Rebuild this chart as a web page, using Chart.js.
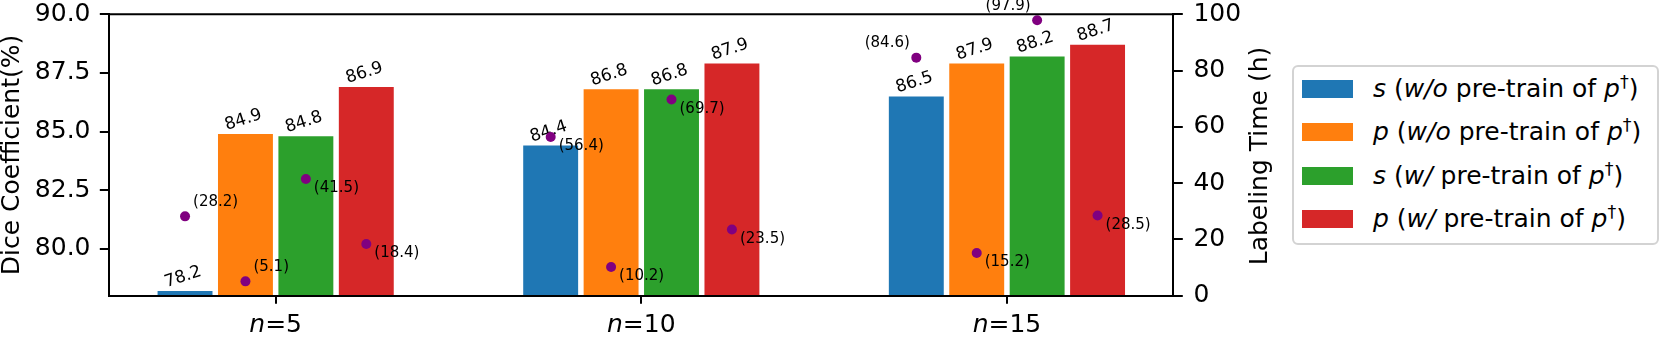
<!DOCTYPE html>
<html>
<head>
<meta charset="utf-8">
<script src="https://cdn.jsdelivr.net/npm/chart.js@4.4.0/dist/chart.umd.min.js"></script>
<style>
  html, body { margin: 0; padding: 0; background: #fff; }
  #wrap { position: relative; width: 1661px; height: 339px; }
  #legend {
    position: absolute; left: 1292px; top: 65px; width: 367px; height: 180px;
    box-sizing: border-box; border: 2px solid #d3d3d3; border-radius: 6px;
    font-family: "DejaVu Sans"; font-size: 25px; color: #000; background: #fff;
  }
  .row { position: absolute; left: 0; height: 30px; line-height: 30px; white-space: nowrap; }
  .swatch { position: absolute; left: 8px; top: 6px; width: 51px; height: 18px; }
  .txt { position: absolute; left: 79px; top: 0; }
  .txt sup { font-size: 0.7em; vertical-align: 0.5em; line-height: 0; }
</style>
</head>
<body>
<div id="wrap">
  <canvas id="chart" width="1661" height="339"></canvas>
  <div id="legend"></div>
</div>
<script>
// n (number of labelled cases)
const categories = ["5", "10", "15"];

// Dice coefficient (%)
const diceSWithout = [78.2, 84.4, 86.5];
const dicePWithout = [84.9, 86.8, 87.9];
const diceSWith = [84.8, 86.8, 88.2];
const dicePWith = [86.9, 87.9, 88.7];

// Labeling time (h)
const timeSWithout = [28.2, 56.4, 84.6];
const timePWithout = [5.1, 10.2, 15.2];
const timeSWith = [41.5, 69.7, 97.9];
const timePWith = [18.4, 23.5, 28.5];

const diceTicks = [80, 82.5, 85, 87.5, 90];
const timeTicks = [0, 20, 40, 60, 80, 100];

const seriesModel = ["s", "p", "s", "p"];
const seriesPretrain = ["w/o", "w/o", "w/", "w/"];
const seriesColors = ["#1f77b4", "#ff7f0e", "#2ca02c", "#d62728"];

// where the "(time)" label sits relative to its dot
const timeLabelSide = [
  ["aboveRight", "belowRight", "aboveLeft"],
  ["aboveRight", "belowRight", "belowRight"],
  ["belowRight", "belowRight", "aboveLeft"],
  ["belowRight", "belowRight", "belowRight"],
];

const diceSeries = [diceSWithout, dicePWithout, diceSWith, dicePWith];
const timeSeries = [timeSWithout, timePWithout, timeSWith, timePWith];

const FONT = "'DejaVu Sans'";
Chart.defaults.font.family = FONT;
Chart.defaults.color = "#000";

function fixSize(prop, size) {
  return (scale) => {
    scale[prop] = size;
    scale.paddingTop = scale.paddingBottom = 0;
    scale.paddingLeft = scale.paddingRight = 0;
  };
}

// Legend
document.getElementById("legend").innerHTML = seriesModel
  .map(
    (m, k) => `
    <div class="row" style="top:${7 + k * 43.3}px">
      <div class="swatch" style="background:${seriesColors[k]}"></div>
      <span class="txt"><i>${m}</i> (<i>${seriesPretrain[k]}</i> pre-train of <i>p</i><sup>†</sup>)</span>
    </div>`,
  )
  .join("");

// Dots, value labels, spines, axis titles
const overlay = {
  id: "overlay",
  afterDatasetsDraw(chart) {
    const { ctx, chartArea: a, scales } = chart;
    ctx.save();

    // rotated bar values
    const ang = (18 * Math.PI) / 180;
    const fs = 17;
    ctx.font = `${fs}px ${FONT}`;
    ctx.fillStyle = "#000";
    diceSeries.forEach((vals, k) => {
      chart.getDatasetMeta(k).data.forEach((bar, i) => {
        const text = vals[i].toFixed(1);
        const w = ctx.measureText(text).width;
        const H = w * Math.sin(ang) + fs * Math.cos(ang);
        ctx.save();
        ctx.translate(bar.x - 2, bar.y - H / 2);
        ctx.rotate(-ang);
        ctx.textAlign = "center";
        ctx.textBaseline = "alphabetic";
        ctx.fillText(text, 0, 0.26 * fs);
        ctx.restore();
      });
    });

    // labeling time dots
    ctx.font = `15px ${FONT}`;
    ctx.textBaseline = "middle";
    timeSeries.forEach((vals, k) => {
      chart.getDatasetMeta(k).data.forEach((bar, i) => {
        const x = bar.x;
        const y = scales.y1.getPixelForValue(vals[i]);
        ctx.fillStyle = "#800080";
        ctx.beginPath();
        ctx.arc(x, y, 5, 0, Math.PI * 2);
        ctx.fill();
        ctx.fillStyle = "#000";
        const text = `(${vals[i].toFixed(1)})`;
        const side = timeLabelSide[k][i];
        if (side === "aboveLeft") {
          ctx.textAlign = "right";
          ctx.fillText(text, x - 6.5, y - 14.5);
        } else if (side === "aboveRight") {
          ctx.textAlign = "left";
          ctx.fillText(text, x + 8, y - 14);
        } else {
          ctx.textAlign = "left";
          ctx.fillText(text, x + 8, y + 9.5);
        }
      });
    });

    // top spine
    ctx.strokeStyle = "#000";
    ctx.lineWidth = 2;
    ctx.beginPath();
    ctx.moveTo(a.left - 1, a.top);
    ctx.lineTo(a.right + 1, a.top);
    ctx.stroke();

    // x tick labels with italic n
    ctx.textBaseline = "alphabetic";
    ctx.textAlign = "left";
    categories.forEach((c, i) => {
      const x = scales.x.getPixelForValue(i);
      ctx.font = `italic 25px ${FONT}`;
      const wn = ctx.measureText("n").width;
      ctx.font = `25px ${FONT}`;
      const wr = ctx.measureText("=" + c).width;
      const x0 = x - (wn + wr) / 2;
      ctx.font = `italic 25px ${FONT}`;
      ctx.fillText("n", x0, 332);
      ctx.font = `25px ${FONT}`;
      ctx.fillText("=" + c, x0 + wn, 332);
    });

    // axis titles
    ctx.font = `25px ${FONT}`;
    ctx.textAlign = "center";
    ctx.save();
    ctx.translate(18.5, (a.top + a.bottom) / 2);
    ctx.rotate(-Math.PI / 2);
    ctx.fillText("Dice Coefficient(%)", 0, 0);
    ctx.restore();
    ctx.save();
    ctx.translate(1267, (a.top + a.bottom) / 2 + 1);
    ctx.rotate(-Math.PI / 2);
    ctx.fillText("Labeling Time (h)", 0, 0);
    ctx.restore();

    ctx.restore();
  },
};

const axisLine = { display: true, color: "#000", width: 2, z: 1 };
const tickMarks = { drawOnChartArea: false, drawTicks: true, tickLength: 9.5, color: "#000", lineWidth: 2 };

new Chart(document.getElementById("chart").getContext("2d"), {
  type: "bar",
  data: {
    datasets: diceSeries.map((vals, k) => ({
      label: `${seriesModel[k]} (${seriesPretrain[k]} pre-train of p†)`,
      data: vals.map((v, i) => ({ x: i, y: v })),
      backgroundColor: seriesColors[k],
      borderWidth: 0,
      categoryPercentage: 0.661,
      barPercentage: 0.909,
      yAxisID: "y",
    })),
  },
  options: {
    responsive: false,
    animation: false,
    events: [],
    layout: { padding: { top: 14.3, left: 0, right: 0, bottom: 0 } },
    plugins: { legend: { display: false }, tooltip: { enabled: false } },
    scales: {
      x: {
        type: "linear",
        position: "bottom",
        offset: false,
        min: -0.455,
        max: 2.455,
        afterBuildTicks: (s) => {
          s.ticks = categories.map((_, i) => ({ value: i }));
        },
        ticks: { callback: () => "", font: { size: 25 } },
        grid: { ...tickMarks, offset: false, tickLength: 8 },
        border: axisLine,
        afterFit: fixSize("height", 43.3),
      },
      y: {
        type: "linear",
        position: "left",
        min: 78,
        max: 90,
        afterBuildTicks: (s) => {
          s.ticks = diceTicks.map((v) => ({ value: v }));
        },
        ticks: { callback: (v) => v.toFixed(1), font: { size: 25 }, padding: 9.3 },
        grid: tickMarks,
        border: axisLine,
        afterFit: fixSize("width", 109.3),
      },
      y1: {
        type: "linear",
        position: "right",
        min: 0,
        max: 100,
        afterBuildTicks: (s) => {
          s.ticks = timeTicks.map((v) => ({ value: v }));
        },
        ticks: { callback: (v) => String(v), font: { size: 25 }, padding: 10.6 },
        grid: tickMarks,
        border: axisLine,
        afterFit: fixSize("width", 1661 - 1173.3),
      },
    },
  },
  plugins: [overlay],
});
</script>
</body>
</html>
